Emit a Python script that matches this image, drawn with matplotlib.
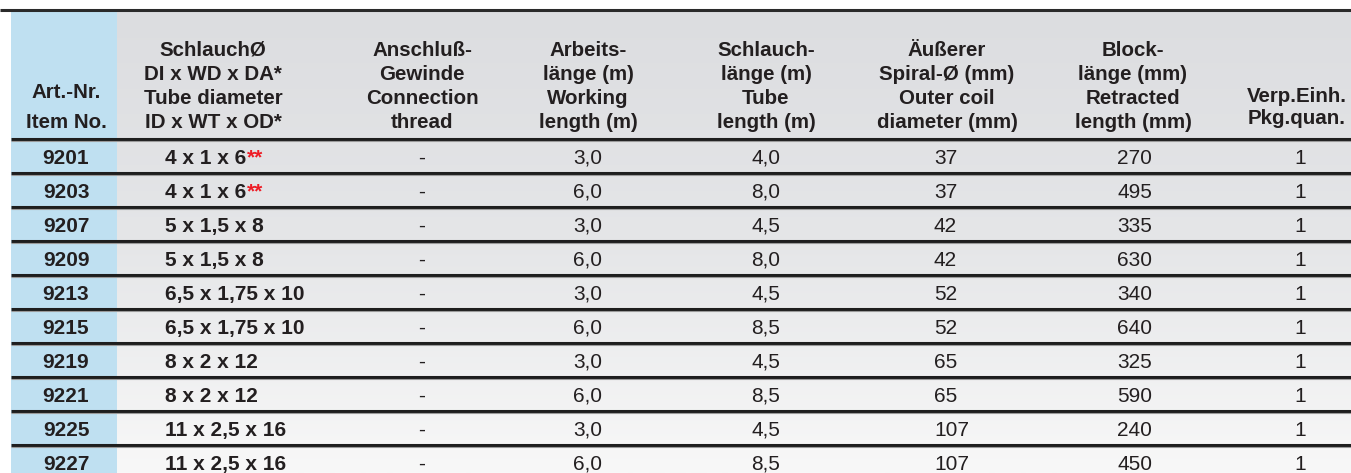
import matplotlib.pyplot as plt
import numpy as np
from matplotlib.colors import LinearSegmentedColormap
from matplotlib.patches import Rectangle

# Helvetica-like metrics; sizes are chosen to match the condensed widths of the source
plt.rcParams["font.family"] = ["Liberation Sans", "DejaVu Sans"]

# ---- table data -----------------------------------------------------------
headers = [
    ["Art.-Nr.", "Item No."],
    ["SchlauchØ", "DI x WD x DA*", "Tube diameter", "ID x WT x OD*"],
    ["Anschluß-", "Gewinde", "Connection", "thread"],
    ["Arbeits-", "länge (m)", "Working", "length (m)"],
    ["Schlauch-", "länge (m)", "Tube", "length (m)"],
    ["Äußerer", "Spiral-Ø (mm)", "Outer coil", "diameter (mm)"],
    ["Block-", "länge (mm)", "Retracted", "length (mm)"],
    ["Verp.Einh.", "Pkg.quan."],
]
art_no = ["9201", "9203", "9207", "9209", "9213", "9215", "9219", "9221", "9225", "9227"]
tube_dim = ["4 x 1 x 6", "4 x 1 x 6", "5 x 1,5 x 8", "5 x 1,5 x 8",
            "6,5 x 1,75 x 10", "6,5 x 1,75 x 10", "8 x 2 x 12", "8 x 2 x 12",
            "11 x 2,5 x 16", "11 x 2,5 x 16"]
tube_note = ["**", "**", "", "", "", "", "", "", "", ""]
thread = ["-"] * 10
working_len = ["3,0", "6,0", "3,0", "6,0", "3,0", "6,0", "3,0", "6,0", "3,0", "6,0"]
tube_len = ["4,0", "8,0", "4,5", "8,0", "4,5", "8,5", "4,5", "8,5", "4,5", "8,5"]
coil_dia = ["37", "37", "42", "42", "52", "52", "65", "65", "107", "107"]
retracted = ["270", "495", "335", "630", "340", "640", "325", "590", "240", "450"]
pkg_qty = ["1"] * 10

# ---- layout (pixels) ------------------------------------------------------
W, H = 1351, 473
left, top, head_bottom, row_h = 11, 12, 139, 34
col_x = [66, 213, 422, 588, 766, 947, 1133, 1297]
fs_head, fs_bold, fs_reg = 14.8, 15, 15

fig = plt.figure(figsize=(W / 100, H / 100), dpi=100)
ax = fig.add_axes([0, 0, 1, 1])
ax.set_xlim(0, W)
ax.set_ylim(H, 0)
ax.axis("off")

# background gradient + blue first column
cmap = LinearSegmentedColormap.from_list("bg", ["#dcdde0", "#e5e6e8", "#f8f8f8"])
grad = np.linspace(0, 1, 256).reshape(-1, 1)
ax.imshow(grad, cmap=cmap, extent=[left, W, H, top], aspect="auto", zorder=0)
ax.add_patch(Rectangle((left, top), 117 - left, H - top, color="#bfe0f1", zorder=1, lw=0))

# rules
ax.plot([0, W], [10, 10], color="#2a2a2a", lw=2.2, solid_capstyle="butt", zorder=3)
n = len(art_no)
for i in range(n):
    y = head_bottom + i * row_h
    ax.plot([left, W], [y, y], color="#1e1e1e", lw=2.2, solid_capstyle="butt", zorder=3)
    ax.plot([left, W], [y + 1.8, y + 1.8], color="#9a9a9a", lw=0.8, solid_capstyle="butt", zorder=3)

# header text
txt = "#231f20"
for j, lines in enumerate(headers):
    if j == 0:
        bases = [98, 128]
    elif j == 7:
        bases = [102, 124]
    else:
        bases = [56, 80, 104, 128]
    for line, yb in zip(lines, bases):
        ax.text(col_x[j], yb, line, ha="center", va="baseline", fontsize=fs_head,
                fontweight="bold", color=txt, zorder=4)

# body
for i in range(n):
    yb = head_bottom + i * row_h + 24.5
    ax.text(col_x[0], yb, art_no[i], ha="center", va="baseline", fontsize=fs_bold,
            fontweight="bold", color=txt, zorder=4)
    t = ax.text(165, yb, tube_dim[i], ha="left", va="baseline", fontsize=fs_bold,
                fontweight="bold", color=txt, zorder=4)
    if tube_note[i]:
        ax.annotate(tube_note[i], xy=(1, 0), xycoords=t, xytext=(0.3, 0),
                    textcoords="offset points", ha="left", va="bottom",
                    fontsize=fs_bold, fontweight="bold", color="#ee1c25", zorder=4)
    ax.text(col_x[2], yb, thread[i], ha="center", va="baseline", fontsize=fs_reg, color=txt, zorder=4)
    ax.text(col_x[3], yb, working_len[i], ha="center", va="baseline", fontsize=fs_reg, color=txt, zorder=4)
    ax.text(col_x[4], yb, tube_len[i], ha="center", va="baseline", fontsize=fs_reg, color=txt, zorder=4)
    ax.text(934, yb, coil_dia[i], ha="left", va="baseline", fontsize=fs_reg, color=txt, zorder=4)
    ax.text(1117, yb, retracted[i], ha="left", va="baseline", fontsize=fs_reg, color=txt, zorder=4)
    ax.text(1300, yb, pkg_qty[i], ha="center", va="baseline", fontsize=fs_reg, color=txt, zorder=4)

fig.savefig("out.png", dpi=100, facecolor="white")
